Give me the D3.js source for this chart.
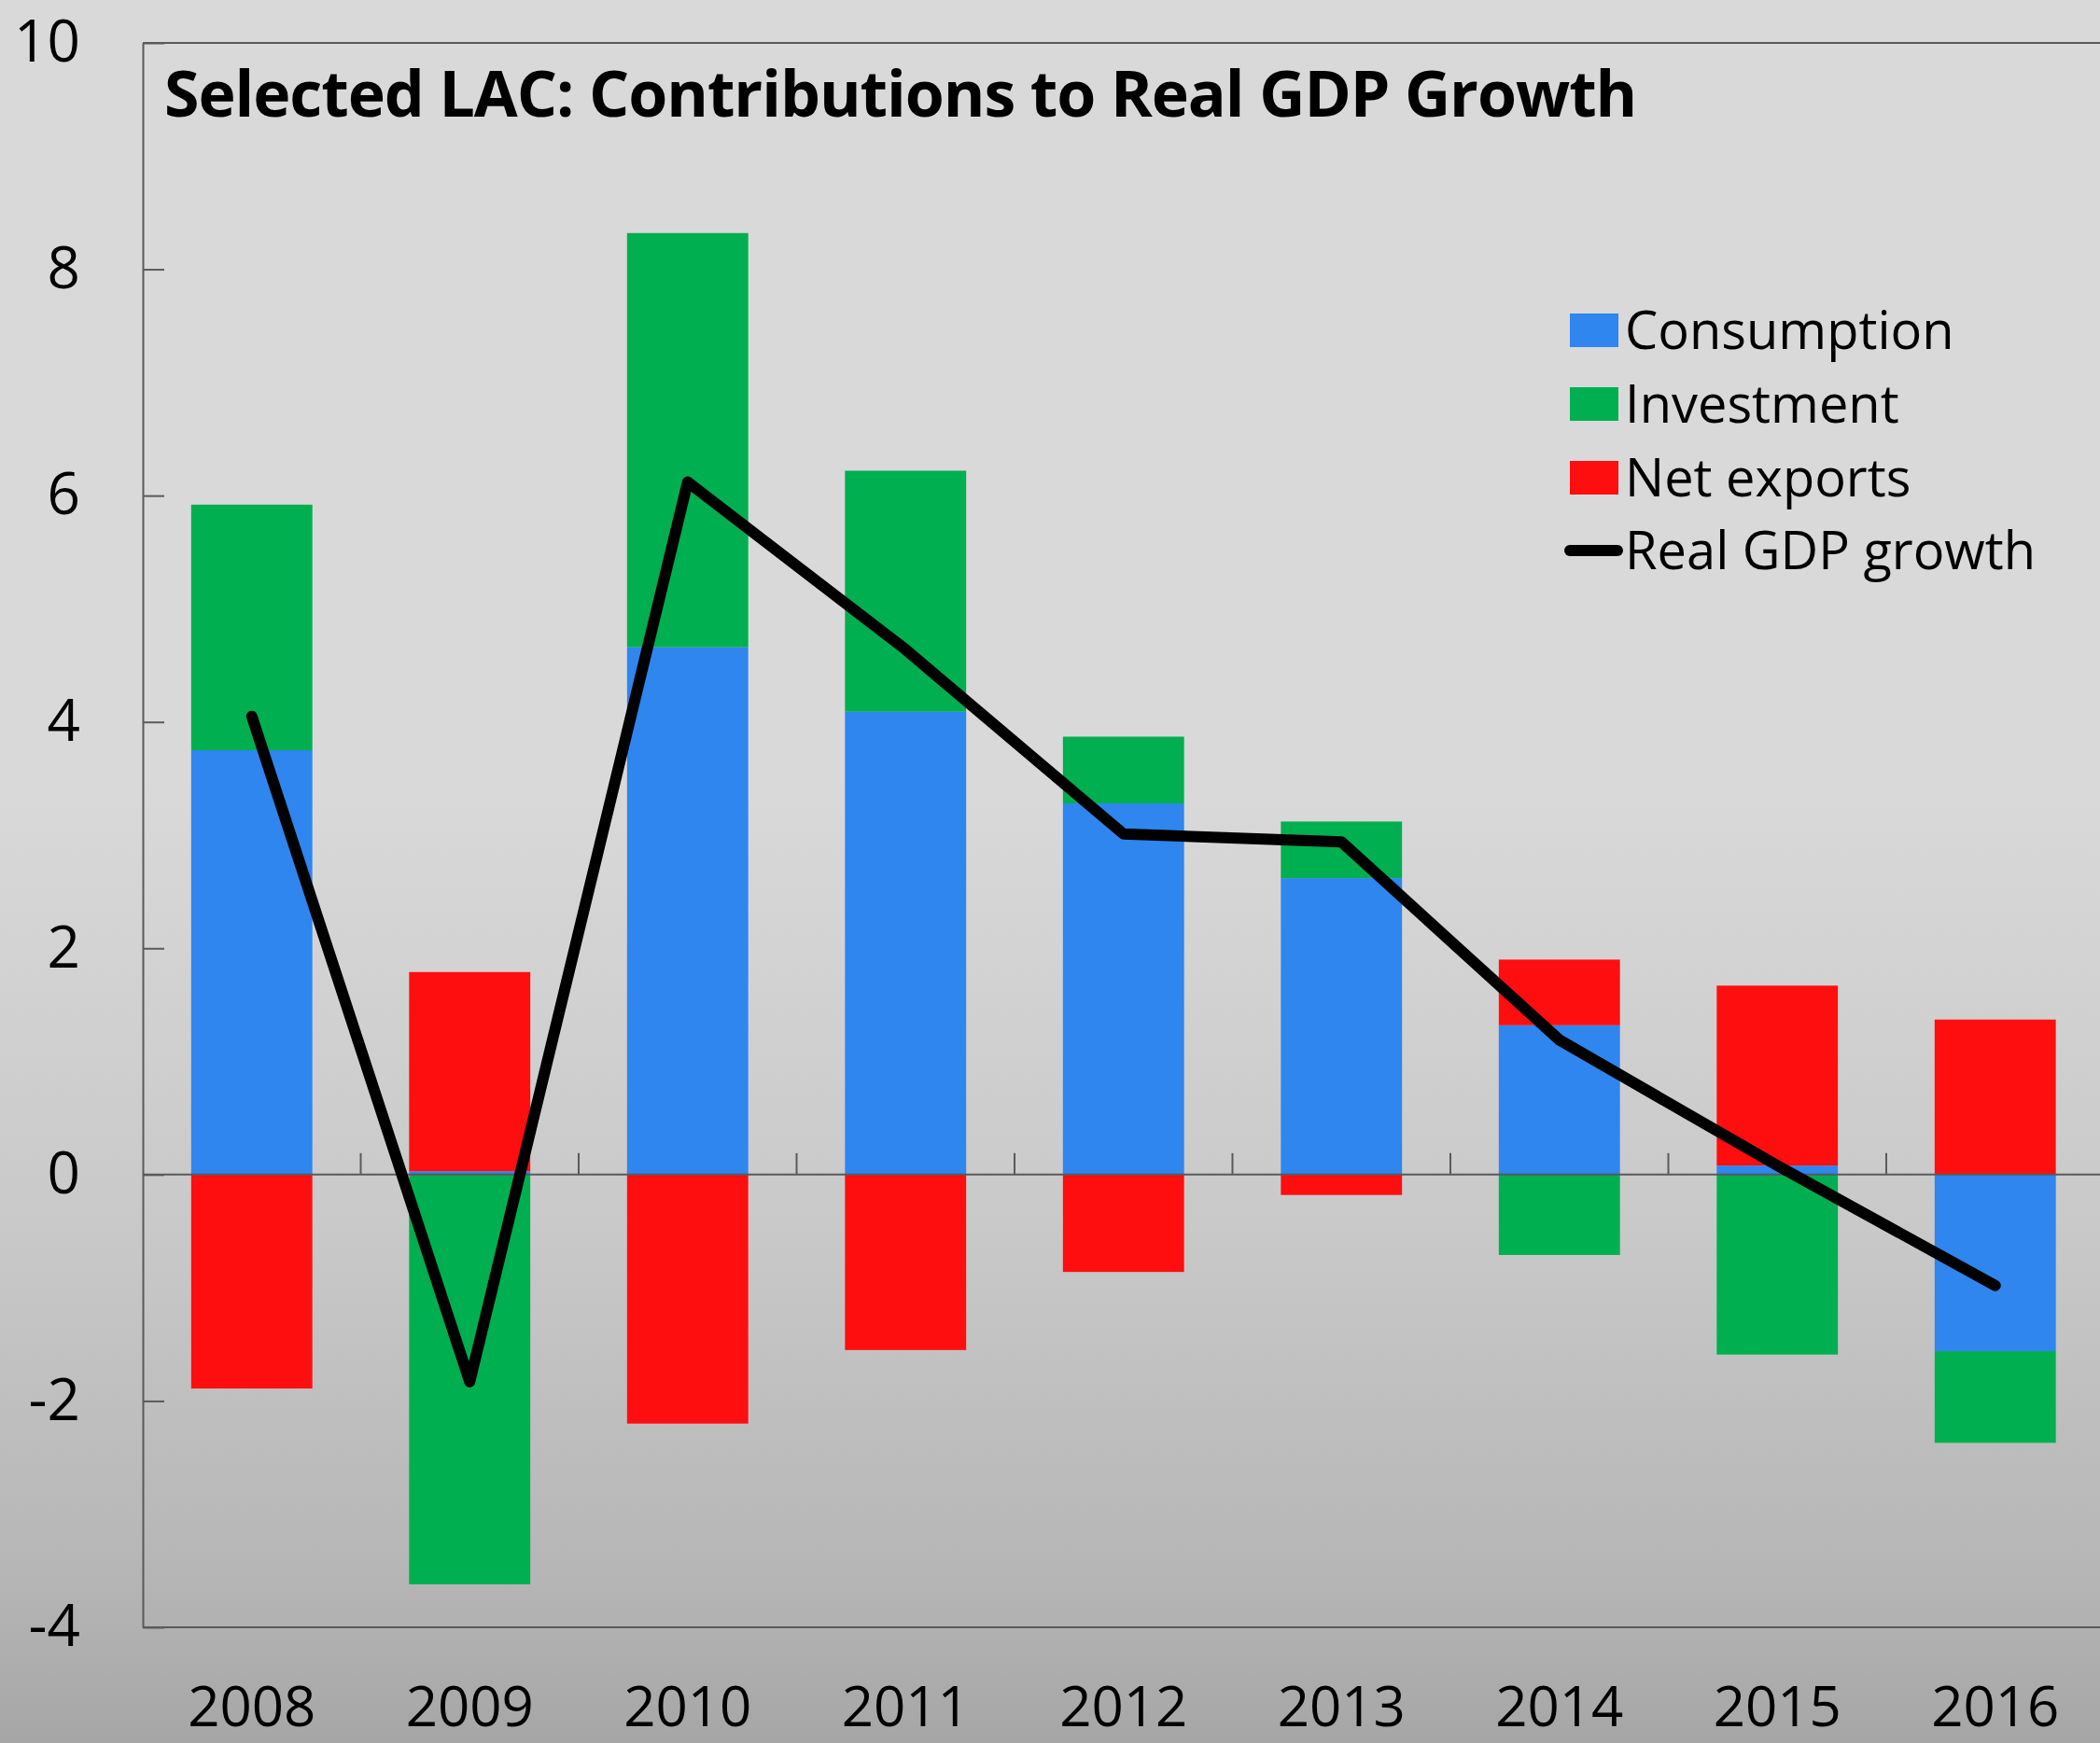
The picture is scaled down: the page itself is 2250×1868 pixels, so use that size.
<!DOCTYPE html>
<html>
<head>
<meta charset="utf-8">
<script src="https://cdn.jsdelivr.net/npm/d3@7"></script>
<style>
  html, body { margin: 0; padding: 0; background: #d9d9d9; }
  svg { display: block; }
  text { font-family: "Open Sans", "Noto Sans", sans-serif; fill: #000; }
</style>
</head>
<body>
<script>
// Contributions to real GDP growth, percentage points
const years = ["2008", "2009", "2010", "2011", "2012", "2013", "2014", "2015", "2016"];
const consumption = [3.75, 0.03, 4.66, 4.09, 3.28, 2.62, 1.32, 0.08, -1.56];
const investment  = [2.17, -3.62, 3.66, 2.13, 0.59, 0.50, -0.71, -1.59, -0.81];
const netExports  = [-1.89, 1.76, -2.20, -1.55, -0.86, -0.18, 0.58, 1.59, 1.37];
const gdpGrowth   = [4.05, -1.83, 6.12, 4.64, 3.01, 2.94, 1.19, 0.08, -0.98];

const seriesKeys   = ["Consumption", "Investment", "Net exports"];
const seriesColors = ["#2e86ee", "#00af50", "#ff0e10"];
const lineLabel    = "Real GDP growth";
const yTicks       = [-4, -2, 0, 2, 4, 6, 8, 10];
const titleText    = "Selected LAC: Contributions to Real GDP Growth";

const W = 2250, H = 1868;
const plotLeft = 153, plotRight = 2254.5, plotTop = 46, plotBottom = 1744;
const axisColor = "#5a5a5a";

const svg = d3.select("body").append("svg")
  .attr("width", W).attr("height", H);

// background: flat light grey fading darker toward the bottom
const grad = svg.append("defs").append("linearGradient")
  .attr("id", "bg").attr("x1", 0).attr("y1", 0).attr("x2", 0).attr("y2", 1);
[[0, "#d9d9d9"], [0.45, "#d9d9d9"], [0.7, "#c9c9c9"], [0.9, "#b6b6b6"], [1, "#a6a6a6"]]
  .forEach(([o, c]) => grad.append("stop").attr("offset", o).attr("stop-color", c));
svg.append("rect").attr("width", W).attr("height", H).attr("fill", "url(#bg)");

const x = d3.scaleBand()
  .domain(years)
  .range([plotLeft, plotRight])
  .paddingInner(0.444)
  .paddingOuter(0.222);

const y = d3.scaleLinear().domain([-4, 10]).range([plotBottom, plotTop]);

// stacked table, positive and negative contributions stacked away from zero
const table = years.map((yr, i) => ({
  year: yr,
  "Consumption": consumption[i],
  "Investment": investment[i],
  "Net exports": netExports[i]
}));
const stacked = d3.stack()
  .keys(seriesKeys)
  .offset(d3.stackOffsetDiverging)(table);

svg.append("g").selectAll("g")
  .data(stacked)
  .join("g")
  .attr("fill", (d, i) => seriesColors[i])
  .selectAll("rect")
  .data(d => d)
  .join("rect")
  .attr("x", d => x(d.data.year))
  .attr("width", x.bandwidth())
  .attr("y", d => y(Math.max(d[0], d[1])))
  .attr("height", d => Math.abs(y(d[0]) - y(d[1])));

// frame: top and bottom borders
svg.append("line")
  .attr("x1", plotLeft).attr("x2", plotRight)
  .attr("y1", y(10)).attr("y2", y(10))
  .attr("stroke", axisColor).attr("stroke-width", 2);
svg.append("line")
  .attr("x1", plotLeft).attr("x2", plotRight)
  .attr("y1", y(-4)).attr("y2", y(-4))
  .attr("stroke", axisColor).attr("stroke-width", 2);

// value axis with inward ticks
const yAxis = svg.append("g")
  .attr("transform", `translate(${plotLeft},0)`)
  .call(d3.axisLeft(y)
    .tickValues(yTicks)
    .tickSizeInner(-23)
    .tickSizeOuter(0)
    .tickPadding(67)
    .tickFormat(d => String(d)));
yAxis.select(".domain").attr("stroke", axisColor).attr("stroke-width", 2);
yAxis.selectAll(".tick line").attr("stroke", axisColor).attr("stroke-width", 2);
yAxis.selectAll(".tick text")
  .attr("font-size", 62)
  .attr("font-family", "\"Open Sans\", \"Noto Sans\", sans-serif")
  .attr("fill", "#000");

// category axis along zero, ticks between categories pointing up
const zeroY = y(0);
svg.append("line")
  .attr("x1", plotLeft).attr("x2", plotRight)
  .attr("y1", zeroY).attr("y2", zeroY)
  .attr("stroke", axisColor).attr("stroke-width", 2);
const gap = x.step() - x.bandwidth();
svg.append("g").selectAll("line")
  .data(years.slice(1))
  .join("line")
  .attr("x1", d => x(d) - gap / 2)
  .attr("x2", d => x(d) - gap / 2)
  .attr("y1", zeroY).attr("y2", zeroY - 23)
  .attr("stroke", axisColor).attr("stroke-width", 2);

// category labels below the frame
svg.append("g").selectAll("text")
  .data(years)
  .join("text")
  .attr("x", d => x(d) + x.bandwidth() / 2)
  .attr("y", 1850)
  .attr("text-anchor", "middle")
  .attr("font-size", 60)
  .text(d => d);

// growth line
const line = d3.line()
  .x((d, i) => x(years[i]) + x.bandwidth() / 2)
  .y(d => y(d));
svg.append("path")
  .datum(gdpGrowth)
  .attr("d", line)
  .attr("fill", "none")
  .attr("stroke", "#000")
  .attr("stroke-width", 12)
  .attr("stroke-linejoin", "round")
  .attr("stroke-linecap", "round");

// title
svg.append("text")
  .attr("x", 176)
  .attr("y", 125)
  .attr("font-size", 68)
  .attr("letter-spacing", -1.05)
  .attr("font-weight", "bold")
  .text(titleText);

// legend
const legend = svg.append("g");
const rowY = [354, 433, 512, 590];
seriesKeys.forEach((k, i) => {
  legend.append("rect")
    .attr("x", 1682).attr("y", rowY[i] - 18)
    .attr("width", 52).attr("height", 36)
    .attr("fill", seriesColors[i]);
  legend.append("text")
    .attr("x", 1741).attr("y", rowY[i] + 20)
    .attr("font-size", 56)
    .text(k);
});
legend.append("line")
  .attr("x1", 1682).attr("x2", 1733)
  .attr("y1", rowY[3]).attr("y2", rowY[3])
  .attr("stroke", "#000").attr("stroke-width", 12)
  .attr("stroke-linecap", "round");
legend.append("text")
  .attr("x", 1741).attr("y", rowY[3] + 20)
  .attr("font-size", 56)
  .text(lineLabel);
</script>
</body>
</html>
